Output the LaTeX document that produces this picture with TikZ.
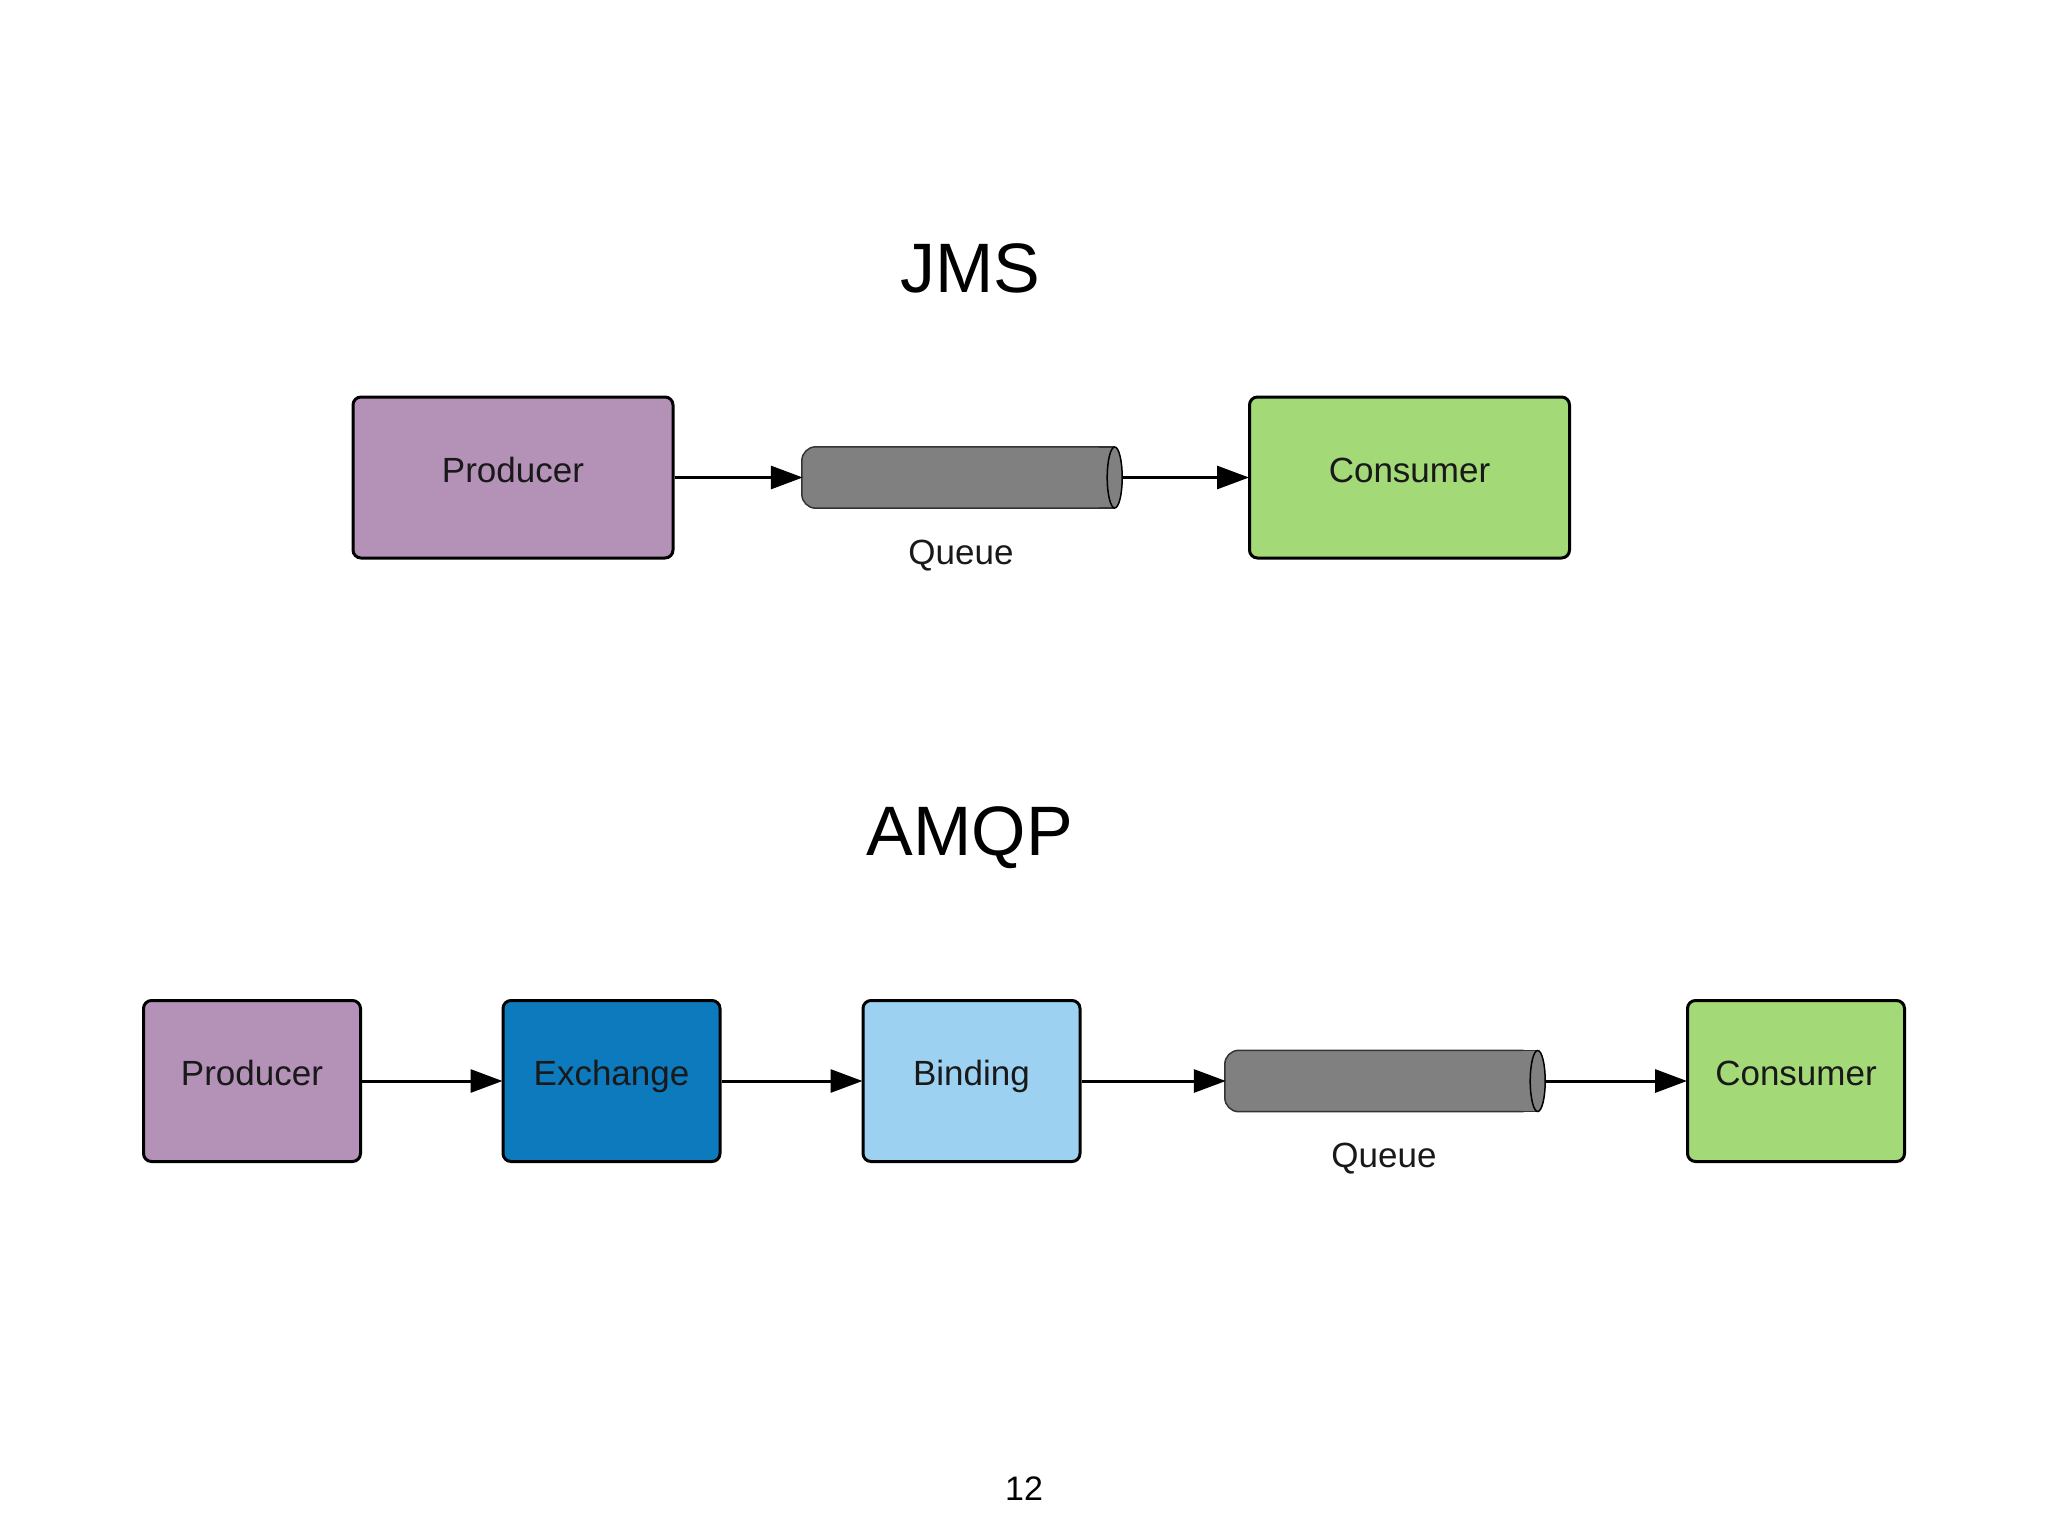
\documentclass[tikz,border=0pt]{standalone}
\usepackage{fontspec}
\setmainfont{Liberation Sans}
\usetikzlibrary{arrows.meta}
\definecolor{prodc}{RGB}{180,145,183}
\definecolor{consc}{RGB}{163,217,119}
\definecolor{exchc}{RGB}{14,122,190}
\definecolor{bindc}{RGB}{157,209,242}
\definecolor{queuec}{RGB}{128,128,128}
\definecolor{txtc}{RGB}{25,25,25}
\tikzset{
  box/.style={draw=black, line width=3pt, rounded corners=8pt, inner sep=0pt,
    minimum height=161pt, text=txtc,
    font=\fontsize{35}{42}\selectfont, text height=0.97em, text depth=0em},
  qbox/.style={inner sep=0pt, minimum width=320pt, minimum height=61pt},
  cylbody/.style={fill=queuec, draw=black!80, line width=1.5pt, rounded corners=14pt},
  cylend/.style={fill=queuec, draw=black, line width=1.5pt},
  qlabel/.style={text=txtc, font=\fontsize{35}{42}\selectfont, text height=0.75em, text depth=0.25em, inner sep=0pt},
  title/.style={anchor=base, inner sep=0pt, font=\fontsize{70}{84}\selectfont},
  arr/.style={line width=3pt, -{Triangle[length=32pt,width=23pt]}, shorten >=-1pt},
}
\begin{document}
\begin{tikzpicture}[x=1pt,y=-1pt]
\useasboundingbox[fill=white] (0,0) rectangle (2048,1536);

% JMS
\node[title] (jms) at (970,292) {JMS};
\node[box, fill=prodc, minimum width=320pt] (p1) at (513,477.5) {Producer};
\node[box, fill=consc, minimum width=320pt] (c1) at (1409.5,477.5) {Consumer};
\node[qbox] (q1) at (962,477.5) {};
\coordinate (q1e) at ([xshift=-7.5pt]q1.east);
\draw[cylbody] ([xshift=-14pt]q1e |- q1.north) -- (q1.north west) -- (q1.south west) -- ([xshift=-14pt]q1e |- q1.south);
\fill[queuec] ([xshift=-16pt]q1e |- q1.north) rectangle (q1e |- q1.south);
\draw[black!80, line width=1.5pt] ([xshift=-16pt]q1e |- q1.north) -- (q1e |- q1.north)
  ([xshift=-16pt]q1e |- q1.south) -- (q1e |- q1.south);
\draw[cylend] (q1e) ellipse [x radius=7.5pt, y radius=30.5pt];
\node[qlabel] (q1l) at (961,562) {Queue};
\draw[arr] (p1.east) -- (q1.west);
\draw[arr] (q1.east) -- (c1.west);

% AMQP
\node[title] (amqp) at (970,855) {AMQP};
\node[box, fill=prodc, minimum width=217pt] (p2) at (252,1081) {Producer};
\node[box, fill=exchc, minimum width=217pt] (e2) at (611.5,1081) {Exchange};
\node[box, fill=bindc, minimum width=217pt] (b2) at (971.5,1081) {Binding};
\node[box, fill=consc, minimum width=217pt] (c2) at (1796,1081) {Consumer};
\node[qbox] (q2) at (1385,1081) {};
\coordinate (q2e) at ([xshift=-7.5pt]q2.east);
\draw[cylbody] ([xshift=-14pt]q2e |- q2.north) -- (q2.north west) -- (q2.south west) -- ([xshift=-14pt]q2e |- q2.south);
\fill[queuec] ([xshift=-16pt]q2e |- q2.north) rectangle (q2e |- q2.south);
\draw[black!80, line width=1.5pt] ([xshift=-16pt]q2e |- q2.north) -- (q2e |- q2.north)
  ([xshift=-16pt]q2e |- q2.south) -- (q2e |- q2.south);
\draw[cylend] (q2e) ellipse [x radius=7.5pt, y radius=30.5pt];
\node[qlabel] (q2l) at (1384,1165) {Queue};
\draw[arr] (p2.east) -- (e2.west);
\draw[arr] (e2.east) -- (b2.west);
\draw[arr] (b2.east) -- (q2.west);
\draw[arr] (q2.east) -- (c2.west);

% page number
\node[anchor=base, inner sep=0pt, font=\fontsize{34}{40}\selectfont] (pg) at (1024,1500) {12};
\end{tikzpicture}
\end{document}
